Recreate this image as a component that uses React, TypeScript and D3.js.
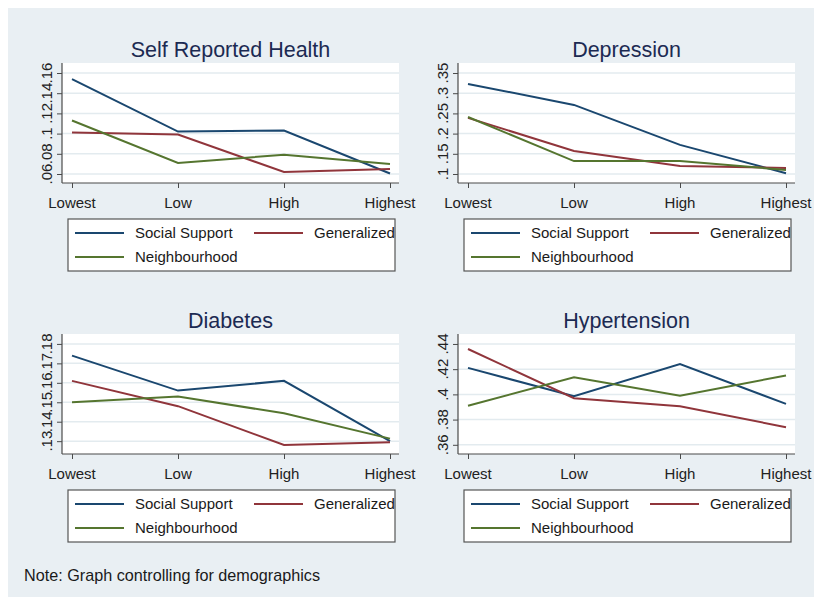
import React, { useEffect, useRef } from 'react';
import * as d3 from 'd3';

const categories = ['Lowest', 'Low', 'High', 'Highest'];
const seriesNames = ['Social Support', 'Generalized', 'Neighbourhood'];
const colours = ['#1a476f', '#90353b', '#55752f'];

// values, order: Social Support, Generalized, Neighbourhood
const srhSocial = [0.154, 0.102, 0.103, 0.0605];
const srhGeneral = [0.101, 0.099, 0.062, 0.065];
const srhNeigh = [0.113, 0.071, 0.079, 0.07];
const srhTicks = [0.06, 0.08, 0.1, 0.12, 0.14, 0.16];

const depSocial = [0.323, 0.271, 0.172, 0.102];
const depGeneral = [0.239, 0.157, 0.12, 0.115];
const depNeigh = [0.241, 0.132, 0.132, 0.11];
const depTicks = [0.1, 0.15, 0.2, 0.25, 0.3, 0.35];

const diaSocial = [0.174, 0.156, 0.161, 0.13];
const diaGeneral = [0.161, 0.148, 0.128, 0.1295];
const diaNeigh = [0.15, 0.153, 0.1443, 0.1313];
const diaTicks = [0.13, 0.14, 0.15, 0.16, 0.17, 0.18];

const hypSocial = [0.421, 0.3985, 0.424, 0.3925];
const hypGeneral = [0.436, 0.397, 0.3906, 0.374];
const hypNeigh = [0.391, 0.4135, 0.399, 0.415];
const hypTicks = [0.36, 0.38, 0.4, 0.42, 0.44];

const panels = [
  { title: 'Self Reported Health', series: [srhSocial, srhGeneral, srhNeigh], ticks: srhTicks, domain: [0.0511, 0.1699], dx: 0, dy: 0 },
  { title: 'Depression', series: [depSocial, depGeneral, depNeigh], ticks: depTicks, domain: [0.0777, 0.3748], dx: 396, dy: 0 },
  { title: 'Diabetes', series: [diaSocial, diaGeneral, diaNeigh], ticks: diaTicks, domain: [0.1234, 0.1851], dx: 0, dy: 271 },
  { title: 'Hypertension', series: [hypSocial, hypGeneral, hypNeigh], ticks: hypTicks, domain: [0.3527, 0.4479], dx: 396, dy: 271 },
];

const fmt = (v: number) => String(+v.toFixed(2)).replace(/^0/, '');

const App = () => {
  const ref = useRef<SVGSVGElement>(null);

  useEffect(() => {
    if (!ref.current) return;
    const svg = d3.select(ref.current);
    svg.selectAll('*').remove();
    const font = 'Liberation Sans, Arial, sans-serif';

    svg.append('rect').attr('width', 814).attr('height', 589).attr('fill', '#e9eff3');
    // page coordinates (svg sits at the 8px body margin)
    const root = svg.append('g').attr('transform', 'translate(-8,-8)');

    panels.forEach((p) => {
      const left = 62, right = 399, top = 63, bottom = 183;
      const g = root.append('g').attr('transform', `translate(${p.dx},${p.dy})`);

      const x = d3.scalePoint<string>().domain(categories).range([left + 10, right - 9]);
      const y = d3.scaleLinear().domain(p.domain).range([bottom, top]);

      g.append('rect').attr('x', left).attr('y', top).attr('width', right - left).attr('height', bottom - top).attr('fill', '#ffffff');

      // grid
      g.selectAll('.grid').data(p.ticks).enter().append('line')
        .attr('x1', left).attr('x2', right)
        .attr('y1', d => y(d)).attr('y2', d => y(d))
        .attr('stroke', '#e3ebef').attr('stroke-width', 1.5);

      // y axis
      const ya = g.append('g').attr('transform', `translate(${left},0)`)
        .call(d3.axisLeft(y).tickValues(p.ticks).tickSize(5).tickFormat(() => ''));
      ya.select('.domain').remove();
      ya.selectAll('line').attr('stroke', '#4a4a4a');
      g.append('line').attr('x1', left).attr('x2', left).attr('y1', top).attr('y2', bottom).attr('stroke', '#4a4a4a').attr('stroke-width', 1.2);
      g.selectAll('.ylab').data(p.ticks).enter().append('text')
        .attr('transform', d => `translate(52,${y(d)}) rotate(-90)`)
        .attr('text-anchor', 'middle')
        .style('font-family', font).style('font-size', '15px').attr('fill', '#222')
        .text(d => fmt(d));

      // x axis
      const xa = g.append('g').attr('transform', `translate(0,${bottom})`)
        .call(d3.axisBottom(x).tickSize(5).tickFormat(() => ''));
      xa.select('.domain').remove();
      xa.selectAll('line').attr('stroke', '#4a4a4a');
      g.append('line').attr('x1', left).attr('x2', right).attr('y1', bottom).attr('y2', bottom).attr('stroke', '#4a4a4a').attr('stroke-width', 1.2);
      g.selectAll('.xlab').data(categories).enter().append('text')
        .attr('x', d => x(d)!).attr('y', 207.5)
        .attr('text-anchor', 'middle')
        .style('font-family', font).style('font-size', '15px').attr('fill', '#222')
        .text(d => d);

      // lines
      const line = d3.line<number>().x((_, i) => x(categories[i])!).y(d => y(d));
      p.series.forEach((s, i) => {
        g.append('path').datum(s).attr('d', line).attr('fill', 'none')
          .attr('stroke', colours[i]).attr('stroke-width', 2);
      });

      // title
      g.append('text').attr('x', (left + right) / 2).attr('y', 56.5)
        .attr('text-anchor', 'middle')
        .style('font-family', font).style('font-size', '21.5px').attr('fill', '#1c2a52')
        .text(p.title);

      // legend
      g.append('rect').attr('x', 68).attr('y', 219).attr('width', 327).attr('height', 52)
        .attr('fill', '#ffffff').attr('stroke', '#555').attr('stroke-width', 1.2);
      const slots = [{ x: 75, y: 233 }, { x: 254, y: 233 }, { x: 75, y: 257 }];
      seriesNames.forEach((n, i) => {
        const s = slots[i];
        g.append('line').attr('x1', s.x).attr('x2', s.x + 49).attr('y1', s.y).attr('y2', s.y)
          .attr('stroke', colours[i]).attr('stroke-width', 2);
        g.append('text').attr('x', s.x + 60).attr('y', s.y + 5.4)
          .style('font-family', font).style('font-size', '15px').attr('fill', '#1a1a1a')
          .text(n);
      });
    });

    root.append('text').attr('x', 24).attr('y', 581)
      .style('font-family', font).style('font-size', '16.2px').attr('fill', '#1a1a1a')
      .text('Note: Graph controlling for demographics');
  }, []);

  return <svg ref={ref} width={814} height={589} style={{ display: 'block' }} />;
};

export default App;
